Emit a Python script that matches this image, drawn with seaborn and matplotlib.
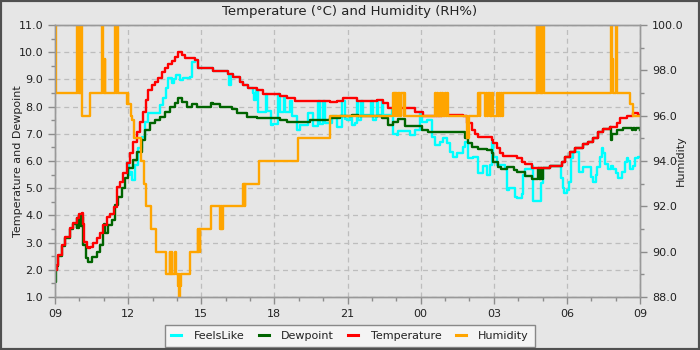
import pandas as pd
import matplotlib
matplotlib.use("Agg")
import matplotlib.pyplot as plt
import matplotlib.dates as mdates
from matplotlib.ticker import MultipleLocator, FormatStrFormatter
from matplotlib.patches import Rectangle
from matplotlib.lines import Line2D
import seaborn as sns

# Readings: (minutes after 09:00, value)
temperature = [
    (0, 2.0), (4, 2.18), (8, 2.54), (16, 2.91), (25, 3.22), (37, 3.54), (45, 3.72), (53, 3.9), (59, 4.05), (66, 4.1),
    (68, 3.7), (72, 3.03), (78, 2.85), (81, 2.8), (86, 2.85), (94, 2.98), (103, 3.16), (111, 3.34), (119, 3.65), (127, 3.95),
    (135, 4.04), (144, 4.32), (152, 5.05), (160, 5.24), (168, 5.55), (176, 5.92), (185, 6.28), (193, 6.71), (201, 7.08), (209, 7.44),
    (217, 7.81), (223, 8.24), (230, 8.61), (238, 8.79), (246, 8.89), (254, 9.06), (263, 9.28), (271, 9.43), (279, 9.55), (287, 9.68),
    (295, 9.84), (302, 10.0), (312, 9.9), (320, 9.8), (336, 9.8), (345, 9.7), (353, 9.43), (357, 9.41), (389, 9.32), (426, 9.2),
    (438, 9.1), (455, 8.89), (463, 8.79), (475, 8.69), (497, 8.61), (512, 8.46), (554, 8.4), (571, 8.33), (591, 8.2), (677, 8.16),
    (694, 8.22), (709, 8.3), (743, 8.22), (793, 8.25), (807, 8.12), (820, 7.94), (886, 7.79), (906, 7.67), (953, 7.7), (1004, 7.64),
    (1014, 7.39), (1026, 7.14), (1034, 6.98), (1041, 6.89), (1076, 6.79), (1079, 6.65), (1087, 6.47), (1095, 6.28), (1103, 6.18), (1137, 6.1),
    (1150, 5.97), (1157, 5.88), (1174, 5.76), (1218, 5.83), (1248, 5.97), (1255, 6.16), (1268, 6.34), (1280, 6.47), (1300, 6.61), (1312, 6.71),
    (1324, 6.83), (1337, 7.08), (1349, 7.18), (1366, 7.26), (1383, 7.39), (1391, 7.59), (1408, 7.67), (1423, 7.75), (1435, 7.7), (1440, 7.7),
]

dewpoint = [
    (0, 1.56), (3, 2.0), (5, 2.15), (8, 2.5), (16, 2.88), (25, 3.18), (37, 3.5), (45, 3.68), (53, 3.55), (55, 3.9),
    (57, 3.55), (60, 4.0), (63, 3.6), (66, 3.95), (68, 3.65), (70, 2.9), (76, 2.42), (82, 2.3), (90, 2.48), (103, 2.67),
    (111, 2.91), (119, 3.4), (121, 3.7), (123, 3.35), (131, 3.65), (141, 3.83), (148, 4.4), (154, 4.69), (164, 5.0), (172, 5.36),
    (180, 5.73), (193, 6.04), (201, 6.34), (214, 6.77), (222, 7.14), (234, 7.39), (246, 7.51), (258, 7.63), (271, 7.79), (283, 8.0),
    (295, 8.12), (302, 8.3), (312, 8.18), (324, 8.0), (336, 8.1), (349, 8.0), (384, 8.15), (389, 8.1), (406, 8.0), (435, 7.91),
    (448, 7.75), (472, 7.63), (497, 7.59), (554, 7.5), (571, 7.42), (596, 7.45), (628, 7.5), (677, 7.57), (702, 7.67), (731, 7.7),
    (746, 7.67), (805, 7.57), (820, 7.32), (832, 7.45), (845, 7.55), (862, 7.3), (903, 7.14), (918, 7.08), (1009, 6.83), (1017, 6.65),
    (1026, 6.53), (1041, 6.44), (1063, 6.4), (1076, 6.28), (1079, 5.97), (1091, 5.79), (1098, 5.69), (1113, 5.79), (1131, 5.66), (1138, 5.6),
    (1157, 5.46), (1174, 5.34), (1189, 5.76), (1191, 5.34), (1193, 5.76), (1195, 5.34), (1197, 5.76), (1199, 5.34), (1201, 5.76), (1218, 5.83),
    (1248, 5.97), (1255, 6.16), (1268, 6.34), (1280, 6.47), (1300, 6.61), (1312, 6.71), (1324, 6.83), (1337, 7.08), (1349, 7.18), (1366, 7.26),
    (1368, 6.77), (1371, 7.0), (1383, 7.14), (1398, 7.22), (1420, 7.14), (1423, 7.22), (1427, 7.14), (1431, 7.22), (1440, 7.15),
]

feels_like = [
    (176, 5.92), (181, 5.5), (185, 5.6), (190, 5.3), (197, 5.85), (205, 6.47), (213, 6.9), (221, 7.44), (230, 7.75), (238, 7.78),
    (254, 7.78), (258, 8.06), (266, 8.3), (273, 8.67), (279, 9.04), (287, 8.86), (293, 9.0), (299, 9.16), (307, 8.97), (315, 9.04),
    (333, 9.1), (338, 9.65), (345, 9.7), (353, 9.43), (357, 9.41), (389, 9.32), (426, 9.2), (428, 8.79), (433, 9.2), (438, 9.1),
    (455, 8.89), (463, 8.79), (475, 8.69), (487, 8.5), (490, 8.24), (494, 8.6), (500, 7.8), (505, 7.8), (519, 8.46), (522, 7.85),
    (532, 7.32), (537, 7.35), (549, 8.46), (554, 7.8), (564, 8.35), (566, 7.8), (578, 8.2), (583, 7.65), (596, 7.15), (603, 7.32),
    (623, 7.75), (635, 7.3), (647, 8.2), (652, 7.35), (660, 8.2), (665, 7.4), (682, 7.65), (694, 7.25), (706, 8.2), (714, 7.55),
    (719, 7.5), (726, 7.6), (731, 7.32), (738, 7.4), (743, 8.2), (746, 7.5), (753, 8.2), (758, 7.7), (778, 8.2), (783, 7.5),
    (790, 7.6), (793, 8.2), (795, 7.7), (805, 8.2), (807, 7.7), (830, 7.94), (832, 7.0), (842, 6.95), (844, 7.1), (869, 7.1),
    (874, 6.95), (886, 7.15), (898, 7.75), (903, 7.45), (916, 7.5), (928, 6.89), (935, 6.59), (948, 6.7), (955, 6.83), (965, 6.65),
    (972, 6.34), (980, 6.16), (990, 6.28), (1004, 6.53), (1009, 6.7), (1017, 6.1), (1029, 6.16), (1041, 5.55), (1054, 5.8), (1063, 5.49),
    (1071, 5.85), (1076, 6.7), (1078, 6.16), (1088, 5.85), (1108, 5.7), (1113, 4.93), (1118, 5.0), (1132, 4.69), (1137, 4.63), (1150, 4.8),
    (1152, 5.49), (1157, 5.7), (1174, 5.8), (1177, 4.53), (1196, 5.2), (1201, 5.76), (1218, 5.83), (1246, 5.38), (1250, 5.0), (1253, 4.82),
    (1260, 4.93), (1265, 5.24), (1270, 6.1), (1275, 6.34), (1285, 6.34), (1290, 5.6), (1300, 5.78), (1319, 5.4), (1324, 5.24), (1332, 5.5),
    (1334, 5.78), (1342, 6.16), (1346, 6.47), (1349, 6.3), (1354, 5.9), (1361, 5.7), (1369, 5.8), (1373, 5.7), (1381, 5.55), (1386, 5.38),
    (1395, 5.6), (1403, 5.97), (1408, 6.1), (1410, 6.0), (1415, 5.7), (1423, 5.8), (1428, 6.1), (1435, 6.16), (1440, 6.16),
]

humidity = [
    (0, 97), (1, 100), (3, 97), (53, 100), (54, 97), (55, 100), (56, 97), (57, 100), (58, 97), (59, 100),
    (60, 97), (61, 100), (62, 97), (63, 100), (64, 97), (65, 100), (66, 96), (86, 97), (115, 100), (117, 98.5),
    (118, 97), (119, 98.5), (121, 97), (122, 98.5), (123, 97), (148, 100), (149, 98.5), (150, 97), (151, 98.5), (152, 97),
    (153, 100), (154, 97), (176, 96.5), (177, 97), (178, 96.5), (179, 97), (180, 96.5), (186, 96), (190, 95.8), (194, 95.0),
    (212, 94.0), (219, 93.0), (224, 92.0), (237, 91.0), (249, 90.0), (274, 89.0), (283, 90), (284, 89), (285, 90), (286, 89),
    (287, 90), (289, 89), (296, 90), (297, 89), (303, 88.5), (304, 89), (305, 88.5), (306, 88.0), (307, 88.5), (309, 89.0),
    (332, 90), (352, 91), (353, 90), (354, 91), (356, 90), (357, 91), (385, 92), (406, 91), (408, 92), (409, 91),
    (411, 92), (412, 91), (414, 92), (463, 93), (464, 92), (465, 93), (467, 92), (468, 93), (502, 94), (598, 95),
    (677, 96), (832, 97), (836, 96), (838, 97), (843, 96), (845, 97), (850, 96), (852, 97), (858, 96), (860, 97),
    (862, 96), (935, 97), (938, 96), (940, 97), (943, 96), (948, 97), (951, 96), (953, 97), (955, 96), (960, 97),
    (963, 96), (965, 97), (967, 96), (1013, 95.5), (1015, 95), (1018, 96), (1041, 97), (1045, 96), (1046, 97), (1058, 96),
    (1060, 97), (1064, 96), (1066, 97), (1071, 96), (1072, 97), (1074, 96), (1076, 97), (1079, 96), (1088, 97), (1090, 96),
    (1092, 97), (1095, 96), (1097, 97), (1100, 96), (1103, 97), (1186, 100), (1187, 97), (1188, 100), (1189, 97), (1190, 100),
    (1191, 97), (1192, 100), (1193, 97), (1194, 100), (1195, 97), (1196, 100), (1197, 97), (1198, 100), (1199, 97), (1200, 100),
    (1201, 97), (1202, 100), (1203, 97), (1369, 100), (1372, 98.5), (1374, 97), (1381, 100), (1384, 97), (1415, 96.5), (1423, 96),
    (1440, 96),
]

series_names = ["FeelsLike", "Dewpoint", "Temperature", "Humidity"]
series_colors = ["#00ffff", "#006400", "#ff0000", "#ffa500"]

start = pd.Timestamp("2024-03-01 09:00")
end = start + pd.Timedelta(hours=24)


def to_frame(pairs):
    mins, vals = zip(*pairs)
    return pd.DataFrame({"time": start + pd.to_timedelta(list(mins), unit="m"),
                         "value": list(vals)})


BG = "#e6e6e6"
TXT = "#222222"
AXC = "#8c8c8c"

plt.rcParams["font.family"] = ["DejaVu Sans"]

fig = plt.figure(figsize=(7, 3.5), dpi=100, facecolor=BG)
ax = fig.add_axes([55 / 700, 53 / 350, 585 / 700, 272 / 350])
ax.set_facecolor(BG)
ax2 = ax.twinx()

frames = [to_frame(feels_like), to_frame(dewpoint), to_frame(temperature), to_frame(humidity)]
targets = [ax, ax, ax, ax2]
for df, tgt, name, col in zip(frames, targets, series_names, series_colors):
    sns.lineplot(data=df, x="time", y="value", ax=tgt, color=col, linewidth=1.7,
                 drawstyle="steps-post", estimator=None, sort=False, legend=False)

ax.set_xlim(start, end)
ax.set_ylim(1, 11)
ax2.set_ylim(88, 100)

ax.xaxis.set_major_locator(mdates.HourLocator(byhour=range(0, 24, 3)))
ax.xaxis.set_minor_locator(mdates.HourLocator())
ax.xaxis.set_major_formatter(mdates.DateFormatter("%H"))

ax.yaxis.set_major_locator(MultipleLocator(1))
ax.yaxis.set_minor_locator(MultipleLocator(0.5))
ax.yaxis.set_major_formatter(FormatStrFormatter("%.1f"))
ax2.yaxis.set_major_locator(MultipleLocator(2))
ax2.yaxis.set_minor_locator(MultipleLocator(1))
ax2.yaxis.set_major_formatter(FormatStrFormatter("%.1f"))

ax.grid(True, which="major", color="#bdbdbd", linestyle=(0, (4, 3)), linewidth=0.9)
ax.set_axisbelow(True)

for a in (ax, ax2):
    a.tick_params(which="major", length=5, width=1, color=AXC, labelsize=8, labelcolor=TXT)
    a.tick_params(which="minor", length=3, width=1, color=AXC)
    for s in a.spines.values():
        s.set_color("#999999")
        s.set_linewidth(1)

ax.set_xlabel("")
ax.set_ylabel("Temperature and Dewpoint", fontsize=8, color=TXT)
ax.yaxis.set_label_coords((23 - 55) / 585, 0.5)
ax2.set_ylabel("Humidity", fontsize=8, color=TXT)
ax2.yaxis.set_label_coords((676 - 55) / 585, 0.5)

fig.text(0.5, 1 - 12 / 350, "Temperature (°C) and Humidity (RH%)",
         ha="center", va="center", fontsize=9.5, color=TXT)

handles = [Line2D([], [], color=c, linewidth=2.2) for c in series_colors]
leg = fig.legend(handles, series_names, loc="lower center", bbox_to_anchor=(0.5, -3 / 350),
                 ncol=4, fontsize=8, frameon=True, fancybox=False, framealpha=1,
                 facecolor="#f4f4f4", edgecolor="#888888", handlelength=0.9,
                 handletextpad=1.1, columnspacing=1.3, borderpad=0.55)
leg.get_frame().set_linewidth(1)
for t in leg.get_texts():
    t.set_color(TXT)

fig.patches.append(Rectangle((0, 0), 1, 1, transform=fig.transFigure, fill=False,
                             edgecolor="#505050", linewidth=3, zorder=10))

fig.savefig("out.png", dpi=100, facecolor=BG)
